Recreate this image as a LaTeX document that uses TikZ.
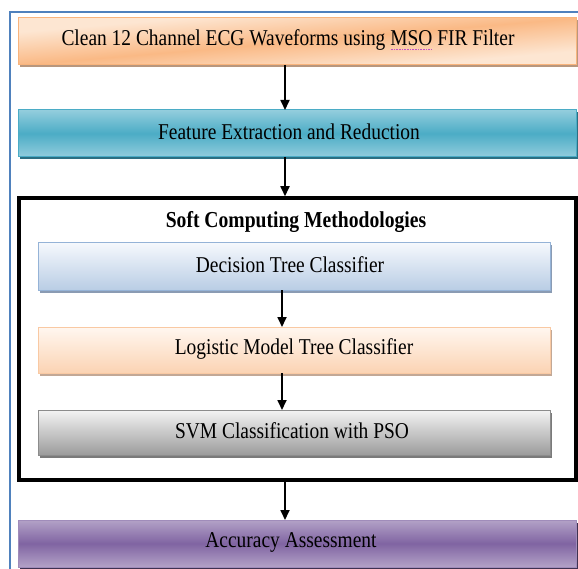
\documentclass[tikz,border=0pt]{standalone}
\usepackage{fontspec}
\setmainfont{Liberation Serif}[FakeStretch=0.86]
\usetikzlibrary{arrows.meta,calc}
\definecolor{frameblue}{HTML}{4F81BD}
\definecolor{orLight}{HTML}{FDE6D2}
\definecolor{orDark}{HTML}{FAB985}
\definecolor{orEdge}{HTML}{F9B47C}
\definecolor{orShadow}{HTML}{B8977E}
\definecolor{tealLight}{HTML}{93CDDD}
\definecolor{tealMid}{HTML}{4BACC6}
\definecolor{tealShadow}{HTML}{2B6F82}
\definecolor{blLight}{HTML}{F5F8FC}
\definecolor{blDark}{HTML}{B9CDE5}
\definecolor{blEdge}{HTML}{95B3D7}
\definecolor{blShadow}{HTML}{8A9BB3}
\definecolor{lgLight}{HTML}{FFF7F0}
\definecolor{lgDark}{HTML}{FBD3B3}
\definecolor{lgEdge}{HTML}{F9C9A3}
\definecolor{lgShadow}{HTML}{C2A896}
\definecolor{gyLight}{HTML}{F4F4F4}
\definecolor{gyDark}{HTML}{9B9B9B}
\definecolor{gyEdge}{HTML}{8C8C8C}
\definecolor{gyShadow}{HTML}{7A7A7A}
\definecolor{puLight}{HTML}{B3A2C7}
\definecolor{puMid}{HTML}{8064A2}
\definecolor{puEdge}{HTML}{A08CBA}
\definecolor{puShadow}{HTML}{3F3151}
\definecolor{spellcol}{HTML}{C050C8}
\newcommand{\spellmark}[1]{\setbox0\hbox{#1}\rlap{\raisebox{-4.5pt}{\textcolor{spellcol}{\hbox to \wd0{\leaders\hbox to 1.6pt{\hss\rule{0.7pt}{0.7pt}\hss}\hfill}}}}#1}
\tikzset{
  box/.style={rectangle, inner sep=0pt, outer sep=0pt, line width=1pt, draw=#1},
  wide/.style={minimum width=558pt},
  narrow/.style={minimum width=512pt},
  shadowed/.style={preaction={fill=#1, transform canvas={xshift=1.5pt, yshift=-2.5pt}}},
  lbl/.style={font=\fontsize{22.6}{27}\selectfont, inner sep=0pt},
  ttl/.style={font=\fontsize{22.8}{27}\selectfont\bfseries, inner sep=0pt},
  flow/.style={-{Triangle[length=10pt,width=9pt]}, line width=1.7pt},
}
\begin{document}
\begin{tikzpicture}[x=1pt,y=-1pt]
\useasboundingbox (0,0) rectangle (578,569);
\begin{scope}
  \clip (0,0) rectangle (578,569);
  \draw[frameblue, line width=2pt] (10,12) rectangle (600,600);
\end{scope}

% boxes
\node[box=orEdge, wide, minimum height=47pt, shadowed=orShadow, fill=orLight] (b1) at (297,41.5) {};
\begin{scope}[transform canvas={shift={(b1.south west)}, xscale=5.58, yscale=0.47}]
  \shade[top color=orLight, bottom color=orLight, middle color=orDark, shading angle=45]
    (0pt,0pt) rectangle (100pt,100pt);
\end{scope}
\draw[orEdge, line width=1pt] (b1.south west) rectangle (b1.north east);
\node[box=tealMid, wide, minimum height=47pt, shadowed=tealShadow,
      shade, top color=tealLight, bottom color=tealLight, middle color=tealMid] (b2) at (297,133.5) {};
\node[draw=black, line width=3.5pt, inner sep=0pt, outer sep=0pt,
      minimum width=557pt, minimum height=282pt] (frame) at (297.5,339) {};
\node[box=blEdge, narrow, minimum height=47pt, shadowed=blShadow,
      shade, top color=blLight, bottom color=blDark] (dt) at (294,266.5) {};
\node[box=lgEdge, narrow, minimum height=46pt, shadowed=lgShadow,
      shade, top color=lgLight, bottom color=lgDark] (lm) at (294,350) {};
\node[box=gyEdge, narrow, minimum height=45pt, shadowed=gyShadow,
      shade, top color=gyLight, bottom color=gyDark] (svm) at (294,432.5) {};
\node[box=puEdge, wide, minimum height=47pt, shadowed=puShadow,
      shade, top color=puLight, bottom color=puLight, middle color=puMid] (acc) at (297,543.5) {};

% labels
\node[lbl] (t1) at ([xshift=-9pt,yshift=1.5pt]b1.center) {Clean 12 Channel ECG Waveforms using \spellmark{MSO} FIR Filter};
\node[lbl] (t2) at ([xshift=-8pt,yshift=1.5pt]b2.center) {Feature Extraction and Reduction};
\node[ttl] (tt) at (296,222) {Soft Computing Methodologies};
\node[lbl] (t3) at ([xshift=-4pt,yshift=1.5pt]dt.center) {Decision Tree Classifier};
\node[lbl] (t4) at ([xshift=0pt,yshift=1.5pt]lm.center) {Logistic Model Tree Classifier};
\node[lbl] (t5) at ([xshift=-2pt,yshift=1.5pt]svm.center) {SVM Classification with PSO};
\node[lbl] (t6) at ([xshift=-6pt,yshift=1.5pt]acc.center) {Accuracy Assessment};

% connectors
\draw[flow] (b1.south -| 285,0) -- (b2.north -| 285,0);
\draw[flow] (b2.south -| 285,0) -- ([yshift=1.75pt]frame.north -| 285,0);
\draw[flow] (dt.south -| 282,0) -- (lm.north -| 282,0);
\draw[flow] (lm.south -| 282,0) -- (svm.north -| 282,0);
\draw[flow] ([yshift=-1.75pt]frame.south -| 285,0) -- (acc.north -| 285,0);
\end{tikzpicture}
\end{document}
